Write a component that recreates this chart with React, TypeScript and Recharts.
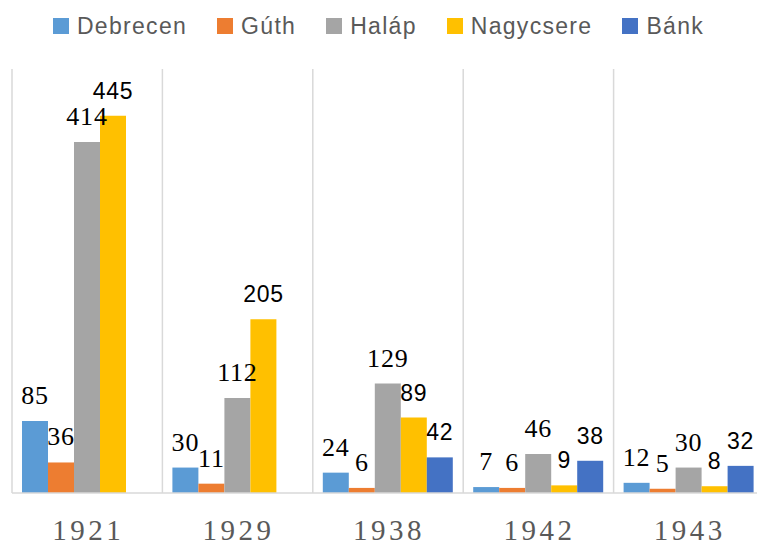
import { Bar, BarChart, CartesianGrid, LabelList, XAxis, YAxis } from "recharts";

const years = ["1921", "1929", "1938", "1942", "1943"];
const debrecen = [85, 30, 24, 7, 12];
const guth = [36, 11, 6, 6, 5];
const halap = [414, 112, 129, 46, 30];
const nagycsere = [445, 205, 89, 9, 8];
const bank = [null, null, 42, 38, 32];

const seriesNames = ["Debrecen", "Gúth", "Haláp", "Nagycsere", "Bánk"];
const seriesColors = ["#5B9BD5", "#ED7D31", "#A5A5A5", "#FFC000", "#4472C4"];
const serifLabels = [true, true, true, false, false];

const seriesValues = [debrecen, guth, halap, nagycsere, bank];

const data = years.map((year, i) => {
  const row: Record<string, string | number | null> = { year };
  seriesNames.forEach((name, s) => {
    row[name] = seriesValues[s][i];
  });
  return row;
});

const SERIF = "'Liberation Serif', 'Times New Roman', serif";
const SANS = "'Liberation Sans', Arial, sans-serif";

const YearTick = ({ x, y, payload }: any) => (
  <text
    x={x + 1}
    y={y + 39}
    textAnchor="middle"
    fill="#595959"
    fontFamily={SERIF}
    fontSize={29}
    style={{ letterSpacing: 3.5 }}
  >
    {payload.value}
  </text>
);

const Legend = () => (
  <div
    style={{
      position: "absolute",
      top: 10,
      left: 0,
      width: 757,
      display: "flex",
      justifyContent: "center",
      gap: 30,
      fontFamily: SANS,
      fontSize: 23,
      letterSpacing: 1.3,
      color: "#595959",
      lineHeight: "32px"
    }}
  >
    {seriesNames.map((name, i) => (
      <div key={name} style={{ display: "flex", alignItems: "center" }}>
        <span
          style={{
            display: "inline-block",
            width: 16,
            height: 16,
            background: seriesColors[i],
            marginRight: 8
          }}
        />
        <span>{name}</span>
      </div>
    ))}
  </div>
);

const App = () => {
  return (
    <div
      style={{
        position: "absolute",
        left: 0,
        top: 0,
        width: 757,
        height: 547,
        overflow: "hidden",
        background: "#ffffff"
      }}
    >
      <Legend />
      <BarChart
        width={765}
        height={547}
        data={data}
        margin={{ top: 69, right: 1, left: 12, bottom: 24 }}
        barCategoryGap={10}
        barGap={0}
      >
        <CartesianGrid
          horizontal={false}
          stroke="#d9d9d9"
          strokeWidth={1.5}
          verticalCoordinatesGenerator={({ offset }: any) =>
            years
              .map((_, i) => offset.left + (i * offset.width) / years.length)
              .concat([offset.left + offset.width])
          }
        />
        <XAxis
          dataKey="year"
          height={30}
          tickLine={false}
          axisLine={{ stroke: "#d9d9d9", strokeWidth: 1.5 }}
          tick={<YearTick />}
          interval={0}
        />
        <YAxis hide domain={[0, 500]} />
        {seriesNames.map((name, i) => (
          <Bar key={name} dataKey={name} fill={seriesColors[i]} isAnimationActive={false}>
            <LabelList
              dataKey={name}
              position="top"
              offset={17}
              fill="#000000"
              fontFamily={serifLabels[i] ? SERIF : SANS}
              fontSize={serifLabels[i] ? 26 : 23}
              style={{ letterSpacing: serifLabels[i] ? 0.8 : 0.7 }}
            />
          </Bar>
        ))}
      </BarChart>
    </div>
  );
};

export default App;
